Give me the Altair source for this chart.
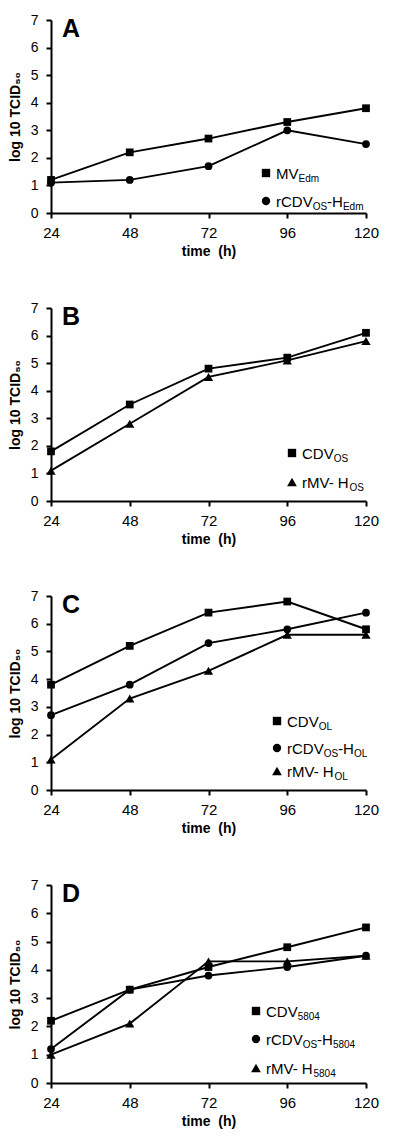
import altair as alt
import pandas as pd

# ---------------- data ----------------
times = [24, 48, 72, 96, 120]

a_mv_edm = [1.2, 2.2, 2.7, 3.3, 3.8]
a_rcdv_h_edm = [1.1, 1.2, 1.7, 3.0, 2.5]

b_cdv_os = [1.8, 3.5, 4.8, 5.2, 6.1]
b_rmv_h_os = [1.1, 2.8, 4.5, 5.1, 5.8]

c_cdv_ol = [3.8, 5.2, 6.4, 6.8, 5.8]
c_rcdv_h_ol = [2.7, 3.8, 5.3, 5.8, 6.4]
c_rmv_h_ol = [1.1, 3.3, 4.3, 5.6, 5.6]

d_cdv_5804 = [2.2, 3.3, 4.1, 4.8, 5.5]
d_rcdv_h_5804 = [1.2, 3.3, 3.8, 4.1, 4.5]
d_rmv_h_5804 = [1.0, 2.1, 4.3, 4.3, 4.5]

y_ticks = [0, 1, 2, 3, 4, 5, 6, 7]

# legend labels as (text, is_subscript) segments
lab_mv_edm = [("MV", 0), ("Edm", 1)]
lab_rcdv_edm = [("rCDV", 0), ("OS", 1), ("-H", 0), ("Edm", 1)]
lab_cdv_os = [("CDV", 0), ("OS", 1)]
lab_rmv_os = [("rMV- H", 0), ("OS", 1)]
lab_cdv_ol = [("CDV", 0), ("OL", 1)]
lab_rcdv_ol = [("rCDV", 0), ("OS", 1), ("-H", 0), ("OL", 1)]
lab_rmv_ol = [("rMV- H", 0), ("OL", 1)]
lab_cdv_5804 = [("CDV", 0), ("5804", 1)]
lab_rcdv_5804 = [("rCDV", 0), ("OS", 1), ("-H", 0), ("5804", 1)]
lab_rmv_5804 = [("rMV- H", 0), ("5804", 1)]

FONT = "Liberation Sans"
MAIN_FS = 15
SUB_FS = 10
PW = 315
SIZES = {"square": 60, "circle": 60, "triangle-up": 85}

# Arial / Liberation Sans advance widths (per 1000 em)
ADV = {" ": 278, "-": 333, "0": 556, "4": 556, "5": 556, "8": 556,
       "C": 722, "D": 722, "E": 667, "H": 722, "L": 556, "M": 833,
       "O": 778, "S": 667, "V": 667, "d": 556, "m": 833, "r": 333}


def text_width(s, fs):
    return sum(ADV.get(ch, 600) for ch in s) * fs / 1000.0


dummy = pd.DataFrame({"k": [0]})


def panel(letter, series, sym_x, text_x, ys, ph):
    rows = []
    for key, vals, shape, segs in series:
        for t, v in zip(times, vals):
            rows.append({"series": key, "shp": shape, "sz": SIZES[shape],
                         "time": t, "value": v})
    df = pd.DataFrame(rows)

    x = alt.X("time:Q",
              scale=alt.Scale(domain=[24, 120], nice=False, zero=False),
              axis=alt.Axis(values=times, title="time\u00a0 (h)",
                            labelFontSize=15, labelPadding=7,
                            labelFlush=False, titlePadding=4))
    y = alt.Y("value:Q",
              scale=alt.Scale(domain=[0, 7], nice=False),
              axis=alt.Axis(values=y_ticks, title="log 10 TCID\u2085\u2080",
                            labelFontSize=14, labelPadding=8,
                            titlePadding=8))
    base = alt.Chart(df)
    lines = base.mark_line(color="black", strokeWidth=1.9).encode(
        x=x, y=y, detail="series:N")
    pts = base.mark_point(filled=True, color="black", opacity=1).encode(
        x=x, y=y,
        shape=alt.Shape("shp:N", scale=None),
        size=alt.Size("sz:Q", scale=None))

    layers = [lines, pts]
    for i, (key, vals, shape, segs) in enumerate(series):
        yc = ys[i]
        layers.append(
            alt.Chart(dummy).mark_point(shape=shape, filled=True, color="black",
                                        opacity=1, size=SIZES[shape] + 10)
            .encode(x=alt.value(sym_x), y=alt.value(yc)))
        cx = text_x
        for seg, sub in segs:
            fs = SUB_FS if sub else MAIN_FS
            by = yc + 6 + (3 if sub else 0)
            layers.append(
                alt.Chart(dummy).mark_text(text=seg, align="left",
                                           baseline="alphabetic", fontSize=fs,
                                           font=FONT, color="black")
                .encode(x=alt.value(cx), y=alt.value(by)))
            cx += text_width(seg, fs)

    layers.append(
        alt.Chart(dummy).mark_text(text=letter, align="left",
                                   baseline="alphabetic", fontSize=25,
                                   fontWeight="bold", font=FONT, color="black")
        .encode(x=alt.value(11), y=alt.value(17)))
    return alt.layer(*layers).properties(width=PW, height=ph)


pA = panel("A", [("MV_Edm", a_mv_edm, "square", lab_mv_edm),
                 ("rCDV_OS-H_Edm", a_rcdv_h_edm, "circle", lab_rcdv_edm)],
           215, 225, [153, 181], 193)
pB = panel("B", [("CDV_OS", b_cdv_os, "square", lab_cdv_os),
                 ("rMV-H_OS", b_rmv_h_os, "triangle-up", lab_rmv_os)],
           241, 251, [145, 174], 193)
pC = panel("C", [("CDV_OL", c_cdv_ol, "square", lab_cdv_ol),
                 ("rCDV_OS-H_OL", c_rcdv_h_ol, "circle", lab_rcdv_ol),
                 ("rMV-H_OL", c_rmv_h_ol, "triangle-up", lab_rmv_ol)],
           226, 236, [125, 152, 175], 194)
pD = panel("D", [("CDV_5804", d_cdv_5804, "square", lab_cdv_5804),
                 ("rCDV_OS-H_5804", d_rcdv_h_5804, "circle", lab_rcdv_5804),
                 ("rMV-H_5804", d_rmv_h_5804, "triangle-up", lab_rmv_5804)],
           205, 215, [126, 154, 183], 198)

chart = (
    alt.vconcat(pA, pB, pC, pD, spacing=43)
    .properties(padding={"left": 0, "top": 5, "right": 5, "bottom": 5},
                background="white")
    .configure_view(stroke=None)
    .configure_axis(grid=False, domainColor="black", domainWidth=2,
                    tickColor="black", tickWidth=2, tickSize=5,
                    labelFont=FONT, labelColor="black",
                    titleFont=FONT, titleFontSize=14, titleFontWeight="bold",
                    titleColor="black")
)

chart.save("out.html", embed_options={"renderer": "svg", "actions": False})
